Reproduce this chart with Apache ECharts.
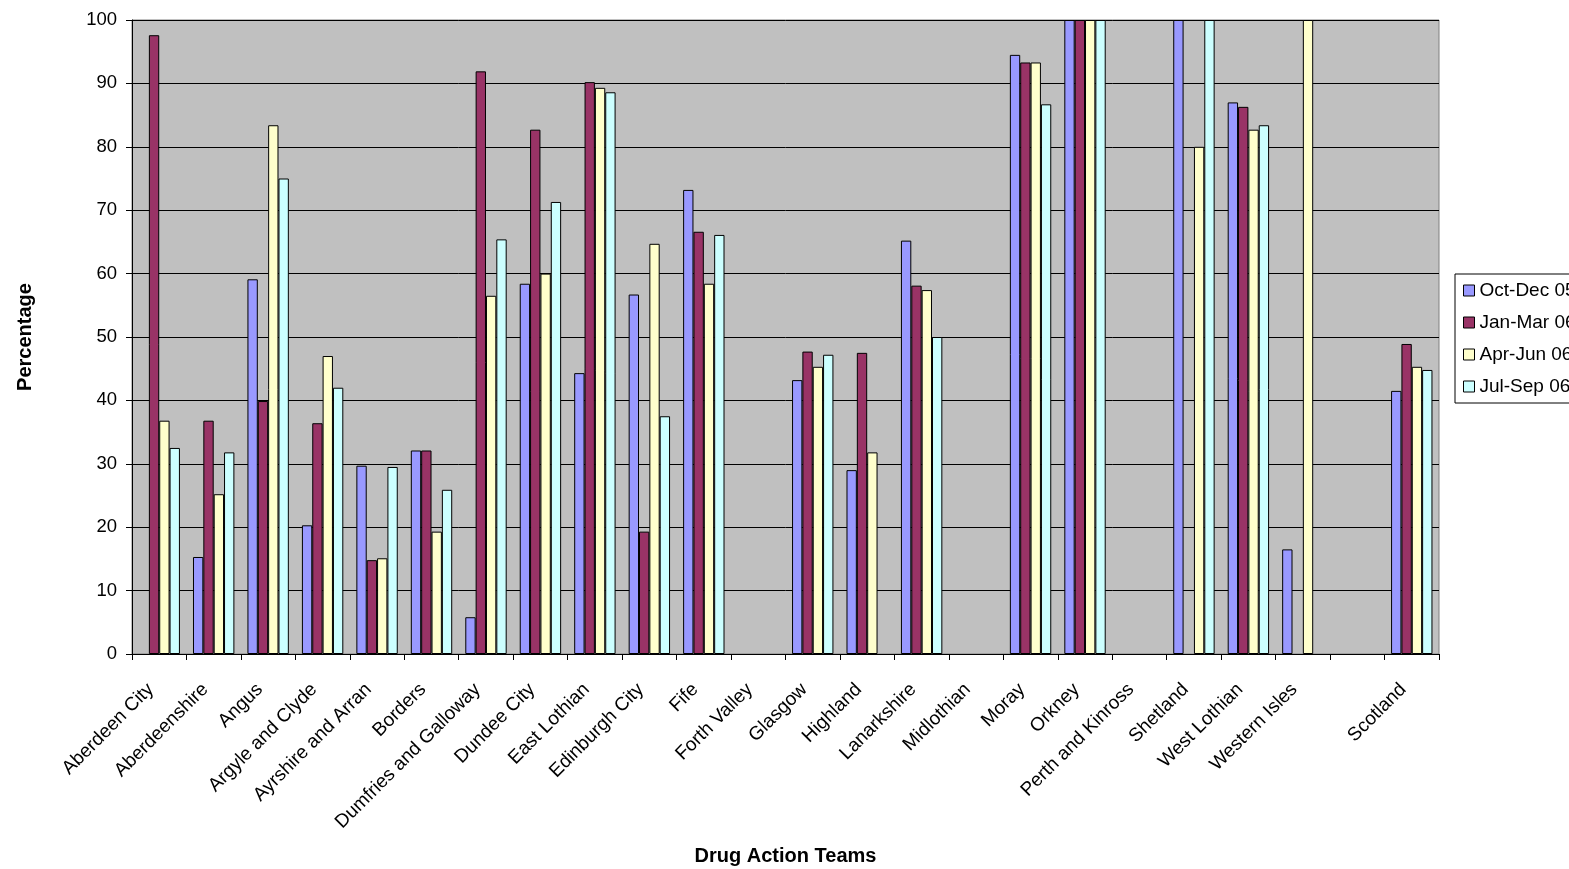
<!DOCTYPE html>
<html>
<head>
<meta charset="utf-8">
<script src="https://cdn.jsdelivr.net/npm/echarts@6/dist/echarts.min.js"></script>
<style>
html,body{margin:0;padding:0;background:#fff;}
#chart{width:1569px;height:869px;}
</style>
</head>
<body>
<div id="chart"></div>
<script>
const categories = ["Aberdeen City","Aberdeenshire","Angus","Argyle and Clyde","Ayrshire and Arran","Borders","Dumfries and Galloway","Dundee City","East Lothian","Edinburgh City","Fife","Forth Valley","Glasgow","Highland","Lanarkshire","Midlothian","Moray","Orkney","Perth and Kinross","Shetland","West Lothian","Western Isles","","Scotland"];
const seriesNames = ["Oct-Dec 05","Jan-Mar 06","Apr-Jun 06","Jul-Sep 06"];
const octDec05 = [null,15.3,59.1,20.3,29.7,32.1,5.8,58.4,44.3,56.7,73.2,null,43.2,29.0,65.2,null,94.5,100,null,100,87.0,16.5,null,41.5];
const janMar06 = [97.6,36.8,39.9,36.4,14.8,32.1,91.9,82.7,90.2,19.3,66.6,null,47.7,47.5,58.1,null,93.3,100,null,null,86.3,null,null,48.9];
const aprJun06 = [36.8,25.2,83.4,47.0,15.1,19.3,56.5,60.0,89.3,64.7,58.4,null,45.3,31.8,57.4,null,93.3,100,null,80.0,82.7,100,null,45.3];
const julSep06 = [32.5,31.8,75.0,42.0,29.5,25.9,65.4,71.3,88.6,37.5,66.1,null,47.2,null,50.0,null,86.7,100,null,100,83.4,null,null,44.8];
const yTicks = {min:0,max:100,interval:10};
const colors = ["#9999FF","#993366","#FFFFCC","#CCFFFF"];

const values = [octDec05, janMar06, aprJun06, julSep06];
const font = "Liberation Sans, Arial, sans-serif";
const chart = echarts.init(document.getElementById('chart'));
chart.setOption({
  backgroundColor:'#ffffff',
  animation:false,
  textStyle:{fontFamily:font},
  grid:{left:132,right:130,top:20,bottom:215,containLabel:false,outerBoundsMode:'none',show:true,backgroundColor:'#C0C0C0',borderColor:'#808080',borderWidth:1},
  legend:{
    orient:'vertical',left:1455,top:274,
    data:seriesNames,
    backgroundColor:'#ffffff',borderColor:'#000000',borderWidth:1,
    padding:[7,10,7,8],itemGap:13,
    itemWidth:11,itemHeight:11,icon:'rect',
    itemStyle:{borderColor:'#000',borderWidth:1},
    textStyle:{fontSize:19,color:'#000',fontFamily:font}
  },
  xAxis:{
    type:'category',data:categories,
    name:'Drug Action Teams',nameLocation:'middle',nameGap:192,
    nameTextStyle:{fontSize:20,fontWeight:'bold',color:'#000',fontFamily:font},
    axisLine:{lineStyle:{color:'#000',width:1}},
    axisTick:{show:true,alignWithLabel:false,length:6,lineStyle:{color:'#000'}},
    axisLabel:{rotate:45,interval:0,fontSize:19,color:'#000',margin:24,padding:[0,12,0,0],fontFamily:font}
  },
  yAxis:{
    type:'value',min:yTicks.min,max:yTicks.max,interval:yTicks.interval,
    name:'Percentage',nameLocation:'middle',nameGap:97,nameRotate:90,
    nameTextStyle:{fontSize:20,fontWeight:'bold',color:'#000',fontFamily:font},
    axisLine:{show:true,lineStyle:{color:'#000',width:1}},
    axisTick:{show:true,length:6,lineStyle:{color:'#000'}},
    axisLabel:{fontSize:18.5,color:'#000',margin:15,fontFamily:font},
    splitLine:{show:true,lineStyle:{color:'#000',width:1}}
  },
  series: seriesNames.map((n,i)=>({
    name:n,type:'bar',data:values[i],
    barGap:'0%',barCategoryGap:'24%',
    itemStyle:{color:colors[i],borderColor:'#000',borderWidth:1}
  }))
});
</script>
</body>
</html>
